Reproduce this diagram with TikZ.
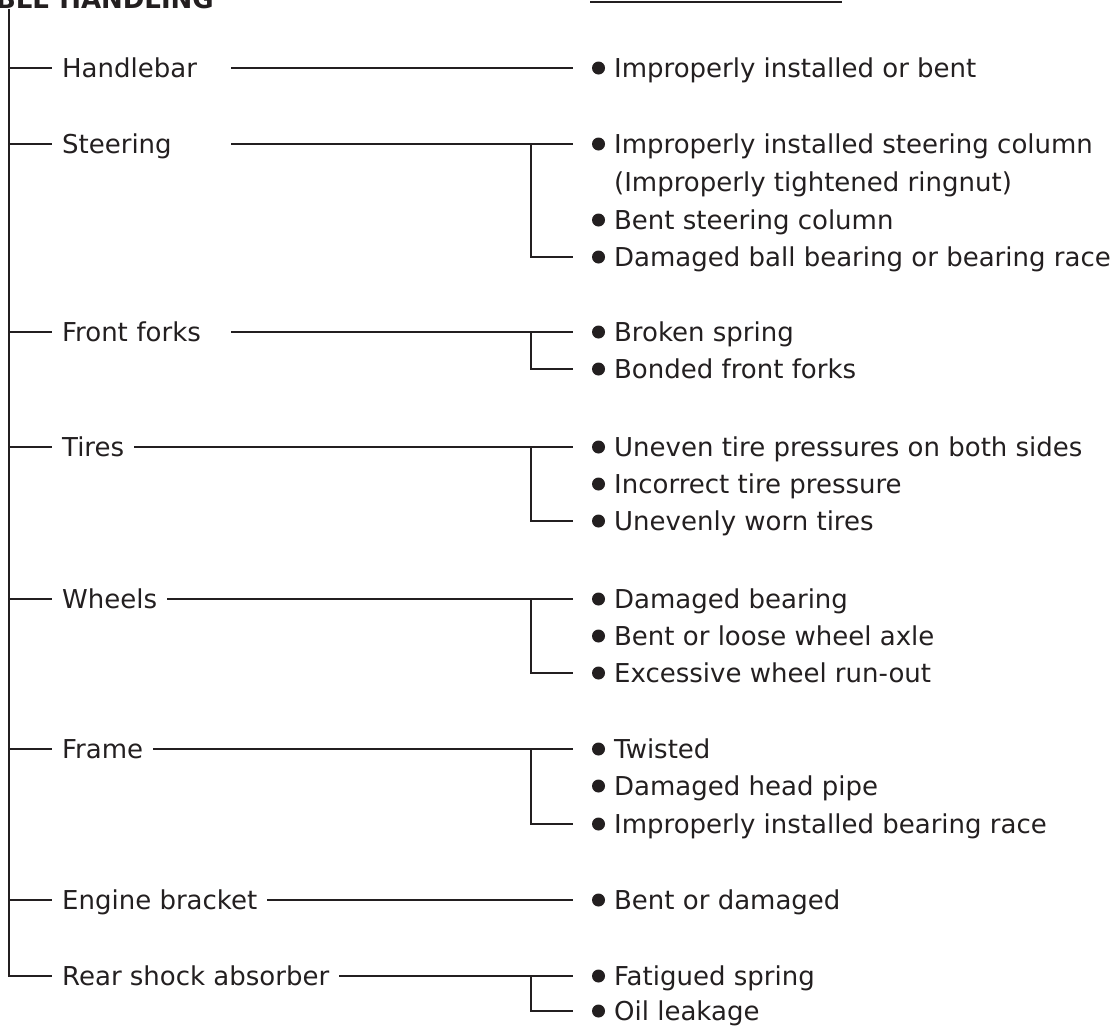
\documentclass[tikz,border=0pt]{standalone}
\usepackage{fontspec}
\setmainfont{DejaVu Sans}
\usepackage{tikz}
\usetikzlibrary{positioning}
\definecolor{ink}{HTML}{231F20}

\begin{document}
\begin{tikzpicture}[
    x=1pt, y=-1pt,
    line width=2.3pt,
    every node/.style={font=\fontsize{26}{38}\selectfont, text=ink},
    part/.style={
        anchor=west,
        inner xsep=9pt,
        inner ysep=0pt,
        text height=19pt,
        text depth=0pt
    },
    widepart/.style={part, text width=159pt, align=left},
    cause/.style={
        anchor=west,
        inner xsep=8pt,
        inner ysep=0pt,
        text height=19pt,
        text depth=0pt
    },
    link/.style={draw=ink, shorten >=32pt}
]
\useasboundingbox (0,0) rectangle (1117,1026);

% heading, cut by the page edge
\node[anchor=base east, inner sep=0pt, font=\fontsize{26}{30}\selectfont\bfseries] (title) at (215,8) {UNSTABLE HANDLING};
\draw[ink, line width=1.8pt] (590,2) -- (842,2);

% parts
\node[widepart] (hb) at (52,68) {Handlebar};
\node[widepart] (st) at (52,144) {Steering};
\node[widepart] (ff) at (52,332) {Front forks};
\node[part] (ti) at (52,447) {Tires};
\node[part] (wh) at (52,599) {Wheels};
\node[part] (fr) at (52,749) {Frame};
\node[part] (eb) at (52,900) {Engine bracket};
\node[part] (rs) at (52,976) {Rear shock absorber};

% causes
\node[cause] (hb1) at (605,68) {Improperly installed or bent};
\node[cause] (st1) at (605,144) {Improperly installed steering column};
\node[cause] (st1b) at (605,182) {(Improperly tightened ringnut)};
\node[cause] (st2) at (605,220) {Bent steering column};
\node[cause] (st3) at (605,257) {Damaged ball bearing or bearing race};
\node[cause] (ff1) at (605,332) {Broken spring};
\node[cause] (ff2) at (605,369) {Bonded front forks};
\node[cause] (ti1) at (605,447) {Uneven tire pressures on both sides};
\node[cause] (ti2) at (605,484) {Incorrect tire pressure};
\node[cause] (ti3) at (605,521) {Unevenly worn tires};
\node[cause] (wh1) at (605,599) {Damaged bearing};
\node[cause] (wh2) at (605,636) {Bent or loose wheel axle};
\node[cause] (wh3) at (605,673) {Excessive wheel run-out};
\node[cause] (fr1) at (605,749) {Twisted};
\node[cause] (fr2) at (605,786) {Damaged head pipe};
\node[cause] (fr3) at (605,824) {Improperly installed bearing race};
\node[cause] (eb1) at (605,900) {Bent or damaged};
\node[cause] (rs1) at (605,976) {Fatigued spring};
\node[cause] (rs2) at (605,1011) {Oil leakage};

\foreach \n in {hb1,st1,st2,st3,ff1,ff2,ti1,ti2,ti3,wh1,wh2,wh3,fr1,fr2,fr3,eb1,rs1,rs2}
    \fill[ink] ([xshift=-6.5pt]\n.west) circle (6.5pt);

% trunk
\coordinate (trunk) at (9,9);
\draw[ink] (trunk) |- (rs.west);
\foreach \n in {hb,st,ff,ti,wh,fr,eb}
    \draw[ink] (trunk |- \n.west) -- (\n.west);

% branches
\coordinate (stbr) at (531,144);
\coordinate (ffbr) at (531,332);
\coordinate (tibr) at (531,447);
\coordinate (whbr) at (531,599);
\coordinate (frbr) at (531,749);
\coordinate (rsbr) at (531,976);

\draw[link] (hb.east) -- (hb1.west);
\draw[link] (st.east) -- (st1.west);
\draw[link] (stbr) |- (st3.west);
\draw[link] (ff.east) -- (ff1.west);
\draw[link] (ffbr) |- (ff2.west);
\draw[link] (ti.east) -- (ti1.west);
\draw[link] (tibr) |- (ti3.west);
\draw[link] (wh.east) -- (wh1.west);
\draw[link] (whbr) |- (wh3.west);
\draw[link] (fr.east) -- (fr1.west);
\draw[link] (frbr) |- (fr3.west);
\draw[link] (eb.east) -- (eb1.west);
\draw[link] (rs.east) -- (rs1.west);
\draw[link] (rsbr) |- (rs2.west);

\end{tikzpicture}
\end{document}
